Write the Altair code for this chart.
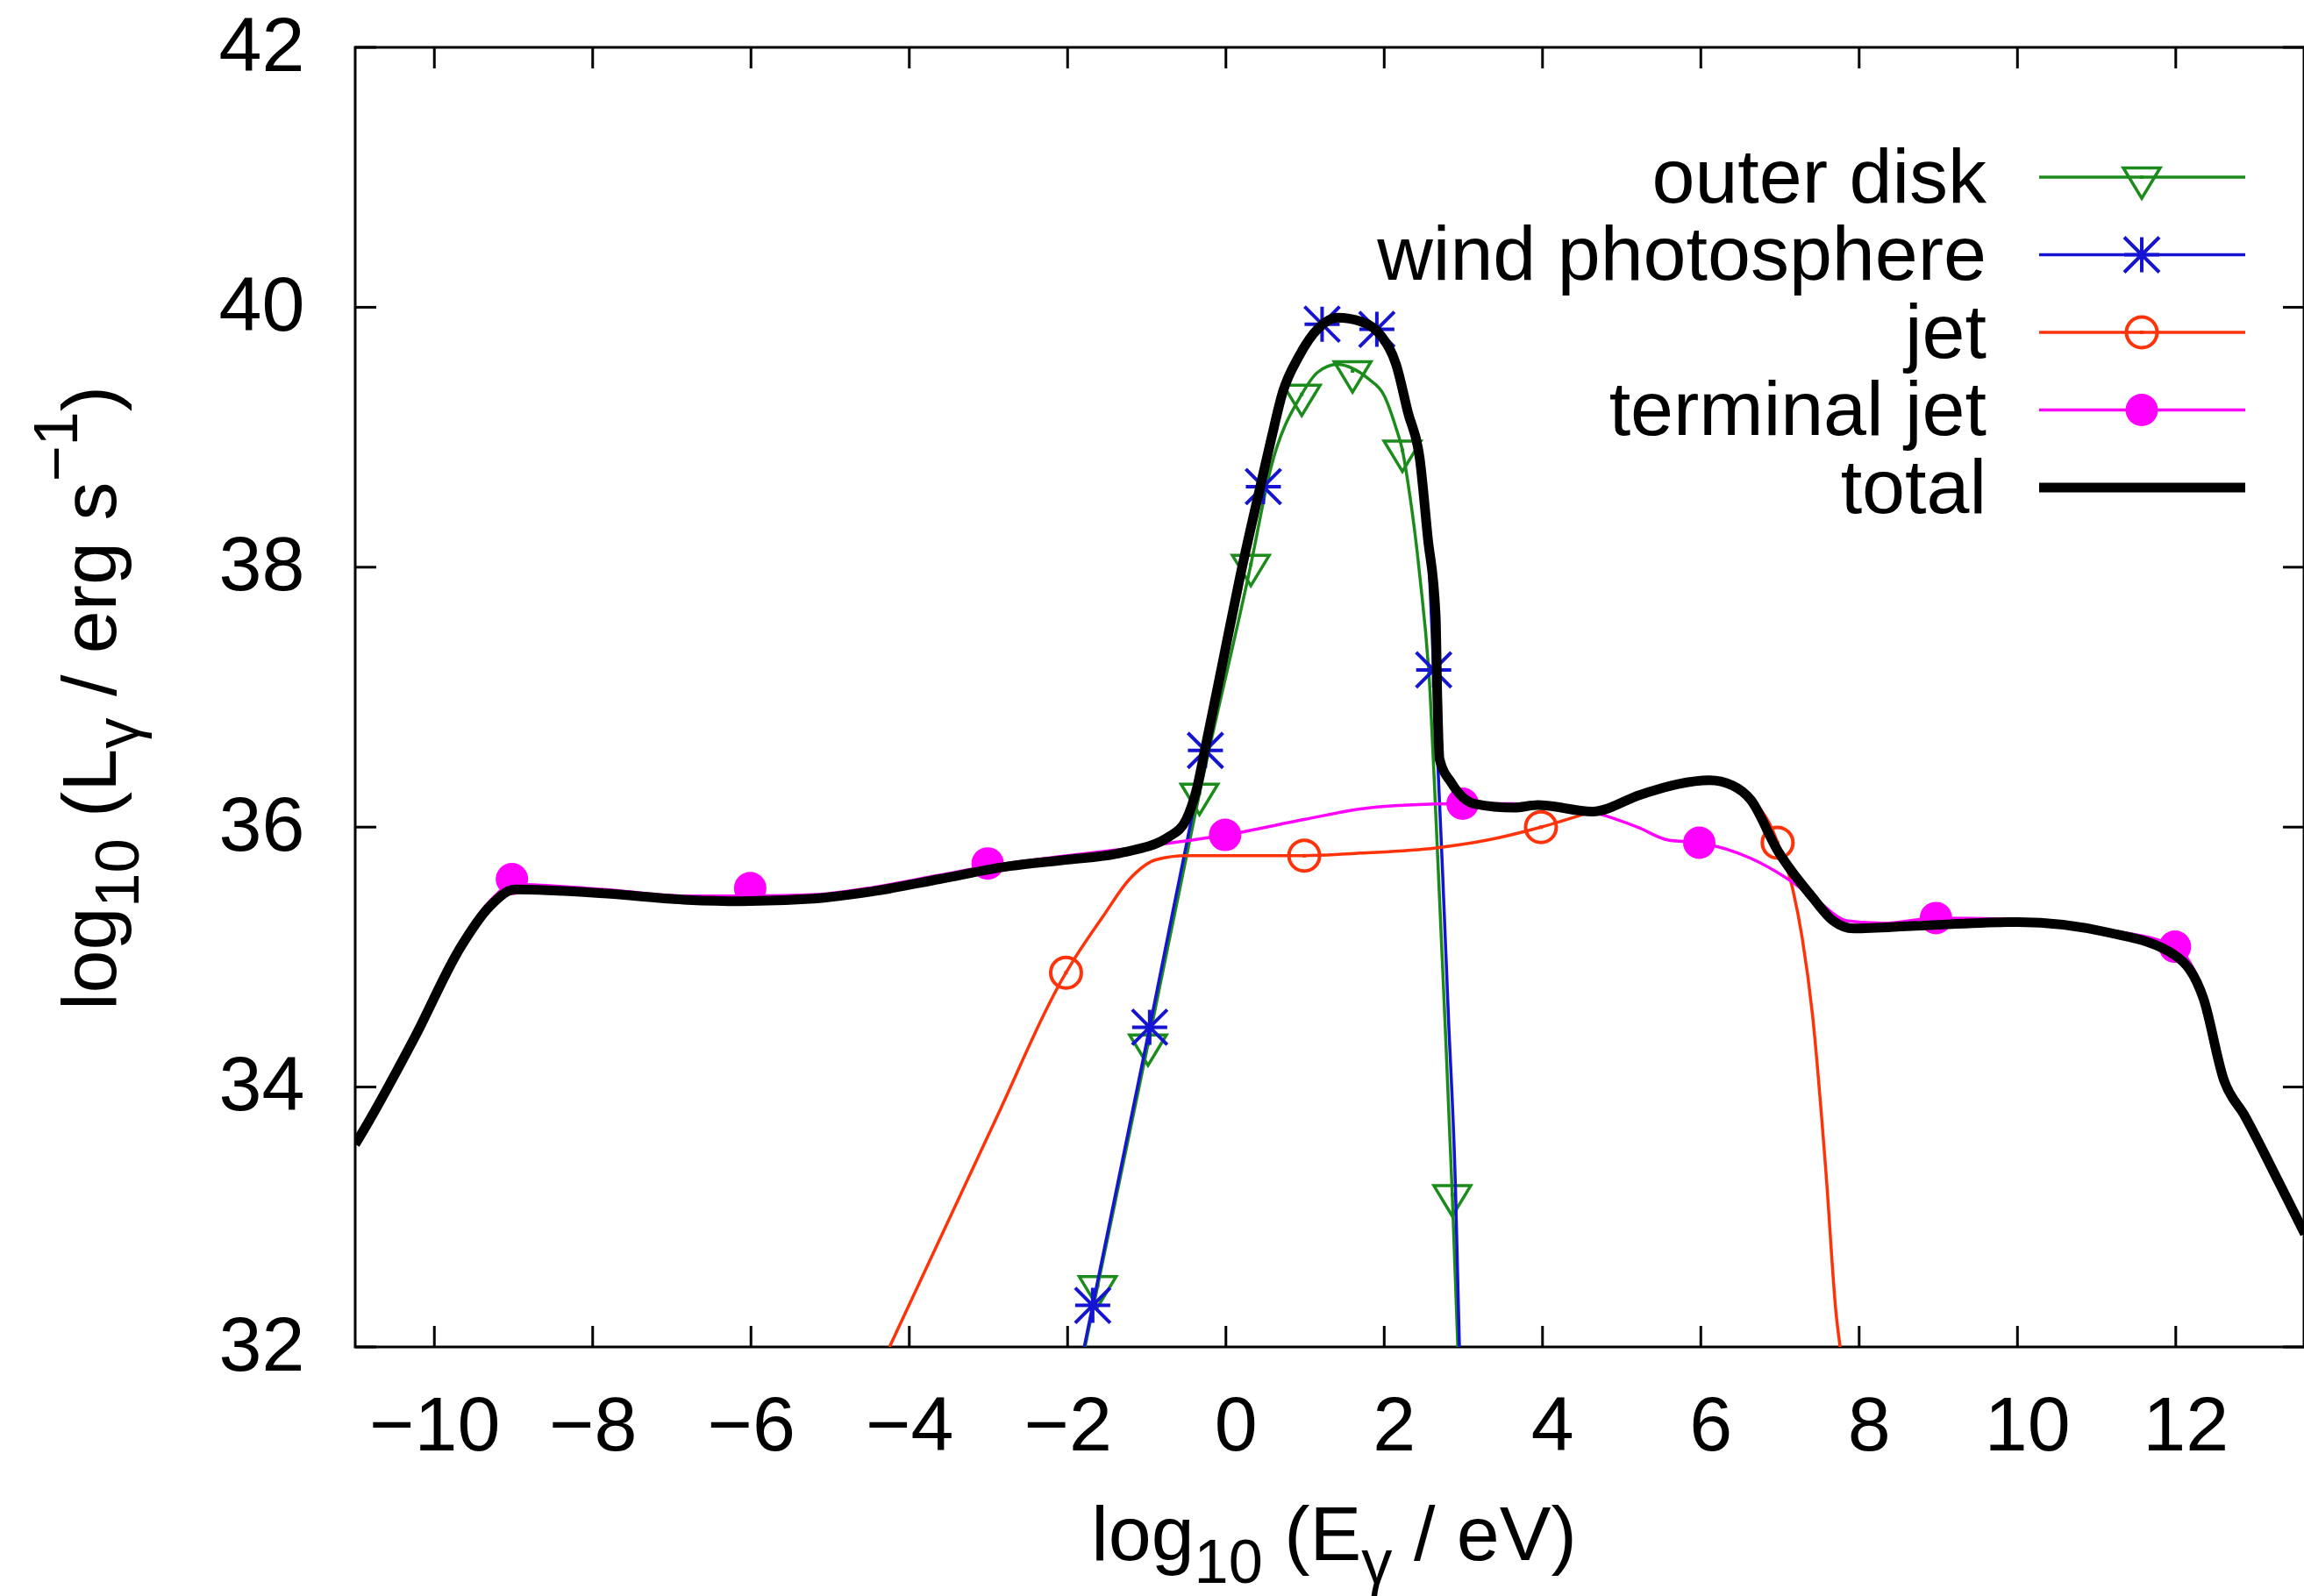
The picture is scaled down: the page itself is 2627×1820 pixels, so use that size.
import altair as alt
import pandas as pd

# ---------------- data ----------------
series_names = ["outer disk", "wind photosphere", "jet", "terminal jet", "total"]

disk_x = [-1.78, -1.62, -0.984, -0.334, 0.315, 0.57, 0.958, 1.16, 1.41, 1.60, 1.80, 2.0, 2.15, 2.23, 2.30, 2.45, 2.58, 2.65, 2.75, 2.86, 2.93]
disk_y = [32.0, 32.47, 34.33, 36.26, 38.02, 38.77, 39.33, 39.50, 39.56, 39.53, 39.45, 39.32, 39.07, 38.90, 38.65, 37.93, 37.03, 36.12, 34.75, 33.17, 32.0]
disk_mx = [-1.62, -0.984, -0.334, 0.315, 0.958, 1.60, 2.23, 2.86]
disk_my = [32.47, 34.33, 36.26, 38.02, 39.33, 39.51, 38.90, 33.17]

wind_x = [-1.79, -1.683, -0.963, -0.259, 0.0, 0.18, 0.473, 0.72, 0.92, 1.215, 1.45, 1.71, 1.907, 2.15, 2.30, 2.45, 2.55, 2.625, 2.73, 2.81, 2.90, 2.95]
wind_y = [32.0, 32.32, 34.46, 36.59, 37.33, 37.93, 38.62, 39.30, 39.60, 39.86, 39.92, 39.89, 39.82, 39.56, 39.19, 38.80, 38.20, 37.21, 35.76, 34.56, 33.23, 32.0]
wind_mx = [-1.683, -0.963, -0.259, 0.473, 1.215, 1.907, 2.625]
wind_my = [32.32, 34.46, 36.59, 38.62, 39.87, 39.83, 37.21]

jet_x = [-4.25, -2.955, -2.02, -1.90, -1.556, -1.217, -0.878, -0.50, 0.99, 1.70, 2.65, 3.30, 3.98, 4.63, 5.24, 5.70, 6.11, 6.50, 6.75, 6.89, 6.97, 7.15, 7.28, 7.41, 7.58, 7.71, 7.76]
jet_y = [32.0, 33.69, 34.88, 35.0, 35.31, 35.60, 35.75, 35.78, 35.78, 35.80, 35.84, 35.90, 36.0, 36.12, 36.24, 36.33, 36.37, 36.30, 36.14, 36.0, 35.88, 35.55, 35.15, 34.56, 33.35, 32.25, 32.0]
jet_mx = [-2.02, 0.99, 3.98, 6.97]
jet_my = [34.88, 35.78, 36.0, 35.88]

term_x = [-11.0, -10.94, -10.25, -9.665, -9.30, -9.0, -7.86, -6.80, -6.0, -5.21, -4.42, -3.62, -3.0, -2.0, -1.31, 0.0, 1.0, 1.70, 2.30, 2.99, 3.60, 4.20, 4.72, 5.20, 5.59, 5.98, 6.63, 7.15, 7.50, 7.84, 8.30, 8.97, 10.01, 11.14, 11.99, 12.35, 12.61, 12.87, 13.30, 13.63]
term_y = [33.60, 33.66, 34.42, 35.12, 35.43, 35.56, 35.52, 35.47, 35.47, 35.48, 35.54, 35.63, 35.70, 35.78, 35.83, 35.94, 36.06, 36.14, 36.17, 36.18, 36.18, 36.15, 36.10, 36.0, 35.90, 35.88, 35.76, 35.58, 35.42, 35.28, 35.26, 35.30, 35.29, 35.21, 35.08, 34.72, 34.09, 33.82, 33.31, 32.91]
term_mx = [-9.02, -6.01, -3.01, -0.01, 2.99, 5.98, 8.97, 11.99]
term_my = [35.60, 35.53, 35.72, 35.94, 36.18, 35.88, 35.30, 35.08]

total_x = [-11.0, -10.94, -10.25, -9.665, -9.30, -8.98, -7.86, -6.80, -6.12, -5.21, -4.42, -3.62, -2.73, -2.0, -1.34, -0.71, -0.50, -0.37, -0.27, -0.02, 0.18, 0.40, 0.57, 0.72, 0.92, 1.17, 1.41, 1.71, 1.96, 2.15, 2.30, 2.45, 2.55, 2.65, 2.67, 2.70, 2.85, 3.14, 3.64, 3.94, 4.63, 5.24, 5.70, 6.11, 6.40, 6.63, 6.97, 7.41, 7.67, 7.93, 8.71, 10.01, 11.14, 12.0, 12.35, 12.61, 12.87, 13.30, 13.63]
total_y = [33.56, 33.62, 34.38, 35.08, 35.39, 35.52, 35.49, 35.44, 35.43, 35.45, 35.51, 35.60, 35.70, 35.75, 35.80, 35.93, 36.06, 36.29, 36.58, 37.33, 37.93, 38.53, 38.98, 39.35, 39.62, 39.84, 39.92, 39.89, 39.78, 39.56, 39.19, 38.83, 38.23, 37.63, 37.03, 36.52, 36.34, 36.18, 36.15, 36.17, 36.12, 36.25, 36.33, 36.36, 36.32, 36.21, 35.82, 35.46, 35.28, 35.22, 35.24, 35.27, 35.19, 35.01, 34.68, 34.05, 33.78, 33.27, 32.87]

x_tick_values = [-10, -8, -6, -4, -2, 0, 2, 4, 6, 8, 10, 12]
y_tick_values = [32, 34, 36, 38, 40, 42]

# ---------------- layout / style ----------------
W, H = 2222, 1482
LEFT, TOP = 405, 54
FULL_W, FULL_H = 2627, 1820
FONT = "Liberation Sans"
FS = 88
SUB = 0.8 * FS

GREEN = "#1b8b1b"
BLUE = "#1414d2"
RED = "#ff330a"
MAGENTA = "#ff00ff"
BLACK = "#000000"

xs = alt.Scale(domain=[-11, 13.62], nice=False, zero=False)
ys = alt.Scale(domain=[32, 42], nice=False, zero=False)

XAXIS = alt.Axis(values=x_tick_values, title=None, ticks=False, tickSize=0, domain=False, grid=False,
                 labelFont=FONT, labelFontSize=FS, labelColor="black", labelPadding=117,
                 labelBaseline="alphabetic", labelFlush=False, labelOverlap=False,
                 labelOffset={"condition": {"test": "datum.value >= 0", "value": 11}, "value": 0})
YAXIS = alt.Axis(values=y_tick_values, title=None, ticks=False, tickSize=0, domain=False, grid=False,
                 labelFont=FONT, labelFontSize=FS, labelColor="black", labelPadding=58,
                 labelAlign="right", labelBaseline="middle", labelFlush=False, labelOverlap=False)


def X(f):
    return alt.X(f + ":Q", scale=xs, axis=XAXIS)


def Y(f):
    return alt.Y(f + ":Q", scale=ys, axis=YAXIS)


TRI = "M-1,-0.5L1,-0.5L0,1.15Z"
AST = "M-1,0L1,0M0,-1L0,1M-1,-1L1,1M-1,1L1,-1"


def line(xv, yv, color, width):
    df = pd.DataFrame({"x": xv, "y": yv})
    return alt.Chart(df).mark_line(color=color, strokeWidth=width, interpolate="monotone",
                                   clip=True, strokeJoin="round").encode(x=X("x"), y=Y("y"))


def marker_def(kind, color):
    if kind == "tri":
        return [dict(shape=TRI, size=1764, filled=False, stroke=color, strokeWidth=3.5),
                dict(shape="square", size=16, filled=True, color=color)]
    if kind == "ast":
        return [dict(shape=AST, size=1600, filled=False, stroke=color, strokeWidth=4)]
    if kind == "ring":
        return [dict(shape="circle", size=1225, filled=False, stroke=color, strokeWidth=4),
                dict(shape="square", size=16, filled=True, color=color)]
    if kind == "dot":
        return [dict(shape="circle", size=1369, filled=True, color=color)]
    return []


def markers(xv, yv, kind, color):
    df = pd.DataFrame({"x": xv, "y": yv})
    out = []
    for d in marker_def(kind, color):
        out.append(alt.Chart(df).mark_point(opacity=1, **d).encode(x=X("x"), y=Y("y")))
    return out


layers = []
plot_specs = [
    (disk_x, disk_y, disk_mx, disk_my, GREEN, 3.5, "tri"),
    (wind_x, wind_y, wind_mx, wind_my, BLUE, 3.5, "ast"),
    (jet_x, jet_y, jet_mx, jet_my, RED, 3.5, "ring"),
    (term_x, term_y, term_mx, term_my, MAGENTA, 3.5, "dot"),
    (total_x, total_y, None, None, BLACK, 11, None),
]
for (lx, ly, mx, my, col, wdt, kind) in plot_specs:
    layers.append(line(lx, ly, col, wdt))
    if mx is not None:
        layers += markers(mx, my, kind, col)

# ---------------- inward ticks (mirrored on all four sides) ----------------
TL = 24
xt = pd.DataFrame({"v": x_tick_values})
yt = pd.DataFrame({"v": y_tick_values})
layers.append(alt.Chart(xt).mark_rule(color="black", strokeWidth=3).encode(x=X("v"), y=alt.value(H), y2=alt.value(H - TL)))
layers.append(alt.Chart(xt).mark_rule(color="black", strokeWidth=3).encode(x=X("v"), y=alt.value(0), y2=alt.value(TL)))
layers.append(alt.Chart(yt).mark_rule(color="black", strokeWidth=3).encode(y=Y("v"), x=alt.value(0), x2=alt.value(TL)))
layers.append(alt.Chart(yt).mark_rule(color="black", strokeWidth=3).encode(y=Y("v"), x=alt.value(W - TL), x2=alt.value(W)))

# ---------------- legend (labels left, samples right) ----------------
leg_kinds = ["tri", "ast", "ring", "dot", None]
leg_colors = [GREEN, BLUE, RED, MAGENTA, BLACK]
leg_widths = [3.5, 3.5, 3.5, 3.5, 11]
ROW0 = 202 - TOP
ROWSTEP = 88.5
TEXT_RIGHT = 2265 - LEFT
SAMPLE_X0 = 2325 - LEFT
SAMPLE_X1 = 2560 - LEFT
SAMPLE_MID = 2442 - LEFT
for i, name in enumerate(series_names):
    ry = ROW0 + i * ROWSTEP
    one = pd.DataFrame({"t": [name]})
    layers.append(alt.Chart(one).mark_text(align="right", baseline="alphabetic", font=FONT, fontSize=FS,
                                           color="black").encode(text="t:N", x=alt.value(TEXT_RIGHT), y=alt.value(ry + 28.5)))
    layers.append(alt.Chart(one).mark_rule(color=leg_colors[i], strokeWidth=leg_widths[i]).encode(
        x=alt.value(SAMPLE_X0), x2=alt.value(SAMPLE_X1), y=alt.value(ry)))
    for d in marker_def(leg_kinds[i], leg_colors[i]):
        layers.append(alt.Chart(one).mark_point(opacity=1, **d).encode(x=alt.value(SAMPLE_MID), y=alt.value(ry)))

# ---------------- axis titles with sub/superscripts ----------------
AW = {"l": 222, "o": 556, "g": 556, " ": 278, "(": 333, ")": 333, "E": 667, "L": 556, "/": 278,
      "e": 556, "V": 667, "r": 333, "s": 500, "1": 556, "0": 556, "\u2212": 584, "\u03b3": 500}
SPACE = 0.278 * FS


def tw(s, fs):
    return sum(AW.get(c, 556) for c in s) / 1000.0 * fs


# (text, font size, baseline shift, gap before) -- gaps replace leading spaces
x_title = [("log", FS, 0, 0), ("10", SUB, 26, 0), ("(E", FS, 0, SPACE), ("\u03b3", SUB, 26, 0),
           ("/ eV)", FS, 0, SPACE)]
y_title = [("log", FS, 0, 0), ("10", SUB, 26, 0), ("(L", FS, 0, SPACE), ("\u03b3", SUB, 26, 0),
           ("/ erg s", FS, 0, SPACE), ("\u22121", SUB, -44, 0), (")", FS, 0, 0)]

xt_total = sum(tw(s, f) + g for s, f, _, g in x_title)
cx = W / 2 + 5 - xt_total / 2
XBASE = 1779 - TOP
for s, f, d, g in x_title:
    cx += g
    one = pd.DataFrame({"t": [s]})
    layers.append(alt.Chart(one).mark_text(align="left", baseline="alphabetic", font=FONT, fontSize=f,
                                           color="black").encode(text="t:N", x=alt.value(cx), y=alt.value(XBASE + d)))
    cx += tw(s, f)

yt_total = sum(tw(s, f) + g for s, f, _, g in y_title)
cy = H / 2 + 1 + yt_total / 2
YBASE = 132 - LEFT
for s, f, d, g in y_title:
    cy -= g
    one = pd.DataFrame({"t": [s]})
    layers.append(alt.Chart(one).mark_text(align="left", baseline="alphabetic", font=FONT, fontSize=f, angle=270,
                                           color="black").encode(text="t:N", x=alt.value(YBASE + d), y=alt.value(cy)))
    cy -= tw(s, f)

chart = alt.layer(*layers).properties(
    width=W, height=H,
    autosize=alt.AutoSizeParams(type="none"),
    padding={"left": LEFT, "top": TOP, "right": FULL_W - LEFT - W, "bottom": FULL_H - TOP - H},
    background="white",
).configure_view(stroke="black", strokeWidth=3)

chart.save("out.html", embed_options={"renderer": "svg", "actions": False})
